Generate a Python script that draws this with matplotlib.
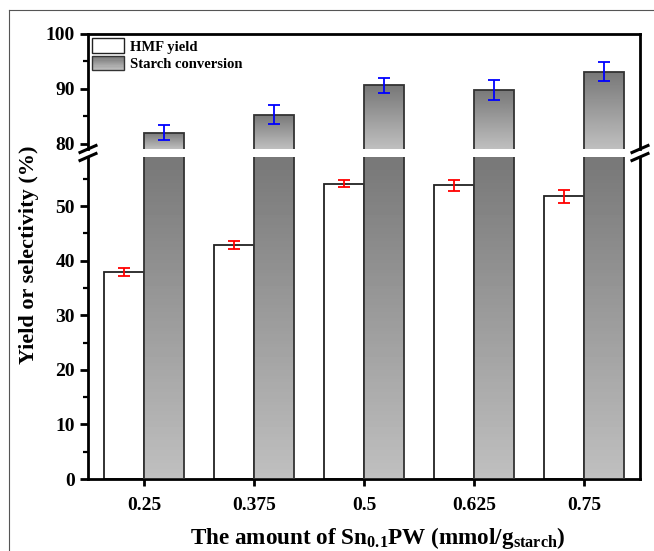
import numpy as np
import matplotlib.pyplot as plt
from matplotlib.patches import Rectangle
from matplotlib.lines import Line2D
from matplotlib.legend_handler import HandlerBase

plt.rcParams['font.family'] = ['Liberation Serif', 'DejaVu Serif']
plt.rcParams['font.weight'] = 'bold'
plt.rcParams['mathtext.fontset'] = 'custom'
plt.rcParams['mathtext.rm'] = 'Liberation Serif:bold'
plt.rcParams['mathtext.it'] = 'Liberation Serif:bold'
plt.rcParams['mathtext.bf'] = 'Liberation Serif:bold'

# data
amounts = ['0.25', '0.375', '0.5', '0.625', '0.75']
hmf_yield = [37.9, 42.9, 54.1, 53.8, 51.8]
hmf_err = [0.7, 0.8, 0.6, 1.0, 1.2]
starch_conv = [82.0, 85.3, 90.6, 89.8, 93.1]
starch_err = [1.3, 1.7, 1.4, 1.8, 1.7]

W, H = 654, 551
fig = plt.figure(figsize=(W / 100, H / 100), dpi=100)


def fx(px):
    return px / W


def fy(py):
    return 1 - py / H


left, right = 88, 640
ax_lo = fig.add_axes([fx(left), fy(479), fx(right) - fx(left), fy(157) - fy(479)])
ax_hi = fig.add_axes([fx(left), fy(149), fx(right) - fx(left), fy(34) - fy(149)])

lo_lim = (0, 59)
hi_lim = (79, 100)
x = np.arange(len(amounts))
w = 0.36
grad = np.linspace(0.75, 0.47, 100).reshape(-1, 1)

for ax, lim in [(ax_lo, lo_lim), (ax_hi, hi_lim)]:
    ax.bar(x - w / 2, hmf_yield, w, facecolor='white', edgecolor='#222222',
           linewidth=1.3, zorder=2)
    ax.errorbar(x - w / 2, hmf_yield, yerr=hmf_err, fmt='none', ecolor='red',
                elinewidth=1.3, capsize=4.5, capthick=1.3, zorder=5)
    bars = ax.bar(x + w / 2, starch_conv, w, facecolor='none', edgecolor='#333333',
                  linewidth=1.3, zorder=3)
    for xi, b, v in zip(x, bars, starch_conv):
        top = min(v, lim[1])
        im = ax.imshow(grad, extent=[xi, xi + w, lim[0], top], aspect='auto',
                       cmap='gray', vmin=0, vmax=1, zorder=2, origin='lower')
        im.set_clip_path(b)
    ax.errorbar(x + w / 2, starch_conv, yerr=starch_err, fmt='none', ecolor='blue',
                elinewidth=1.3, capsize=4.5, capthick=1.3, zorder=5)
    ax.set_xlim(-0.51, 4.51)
    ax.set_ylim(*lim)
    for s in ax.spines.values():
        s.set_linewidth(2.0)
    ax.tick_params(axis='y', which='major', direction='out', length=6, width=2,
                   labelsize=14)
    ax.tick_params(axis='y', which='minor', direction='out', length=3.5, width=1.6)

# lower axis
ax_lo.spines['top'].set_visible(False)
ax_lo.set_yticks([0, 10, 20, 30, 40, 50])
ax_lo.set_yticks([5, 15, 25, 35, 45, 55], minor=True)
ax_lo.set_xticks(x)
ax_lo.set_xticklabels(amounts)
ax_lo.tick_params(axis='x', direction='out', length=5, width=2, labelsize=14, pad=8)

# upper axis
ax_hi.spines['bottom'].set_visible(False)
ax_hi.set_yticks([80, 90, 100])
ax_hi.set_yticks([85, 95], minor=True)
ax_hi.set_xticks([])

# legend with gradient patch


class GradientHandler(HandlerBase):
    def create_artists(self, legend, orig_handle, xdescent, ydescent, width, height,
                       fontsize, trans):
        arts = []
        n = 12
        for k in range(n):
            c = 0.75 - (0.75 - 0.47) * k / (n - 1)
            arts.append(Rectangle((-xdescent, -ydescent + height * k / n), width,
                                  height / n, facecolor=str(c), edgecolor='none',
                                  transform=trans))
        arts.append(Rectangle((-xdescent, -ydescent), width, height, facecolor='none',
                              edgecolor='#333333', linewidth=1.0, transform=trans))
        return arts


h1 = Rectangle((0, 0), 1, 1, facecolor='white', edgecolor='#222222', linewidth=1.0)
h2 = Rectangle((0, 0), 1, 1)
ax_hi.legend([h1, h2], ['HMF yield', 'Starch conversion'], loc='upper left',
             frameon=False, fontsize=10.5, handlelength=2.2, handleheight=1.2,
             handletextpad=0.35, labelspacing=0.12, borderaxespad=0.1,
             borderpad=0.2, handler_map={h2: GradientHandler()})

# break marks
for xc in (left, right):
    for yc in (149, 157):
        fig.add_artist(Line2D([fx(xc - 8), fx(xc + 8)], [fy(yc + 3.5), fy(yc - 3.5)],
                              color='black', linewidth=2.2, transform=fig.transFigure))

# labels
fig.text(fx(29), fy(255), 'Yield or selectivity (%)', rotation=90, ha='center',
         va='center', fontsize=16, fontweight='bold')
fig.text(fx(378), fy(538), r'The amount of Sn$_{0.1}$PW (mmol/g$_{\rm starch}$)',
         ha='center', va='center', fontsize=16.7, fontweight='bold')

# outer frame lines
fig.add_artist(Line2D([fx(9), fx(9)], [fy(10), 0], color='#555555', linewidth=0.8,
                      transform=fig.transFigure))
fig.add_artist(Line2D([fx(9), 1], [fy(10), fy(10)], color='#555555', linewidth=0.8,
                      transform=fig.transFigure))

fig.savefig('out.png', dpi=100)
